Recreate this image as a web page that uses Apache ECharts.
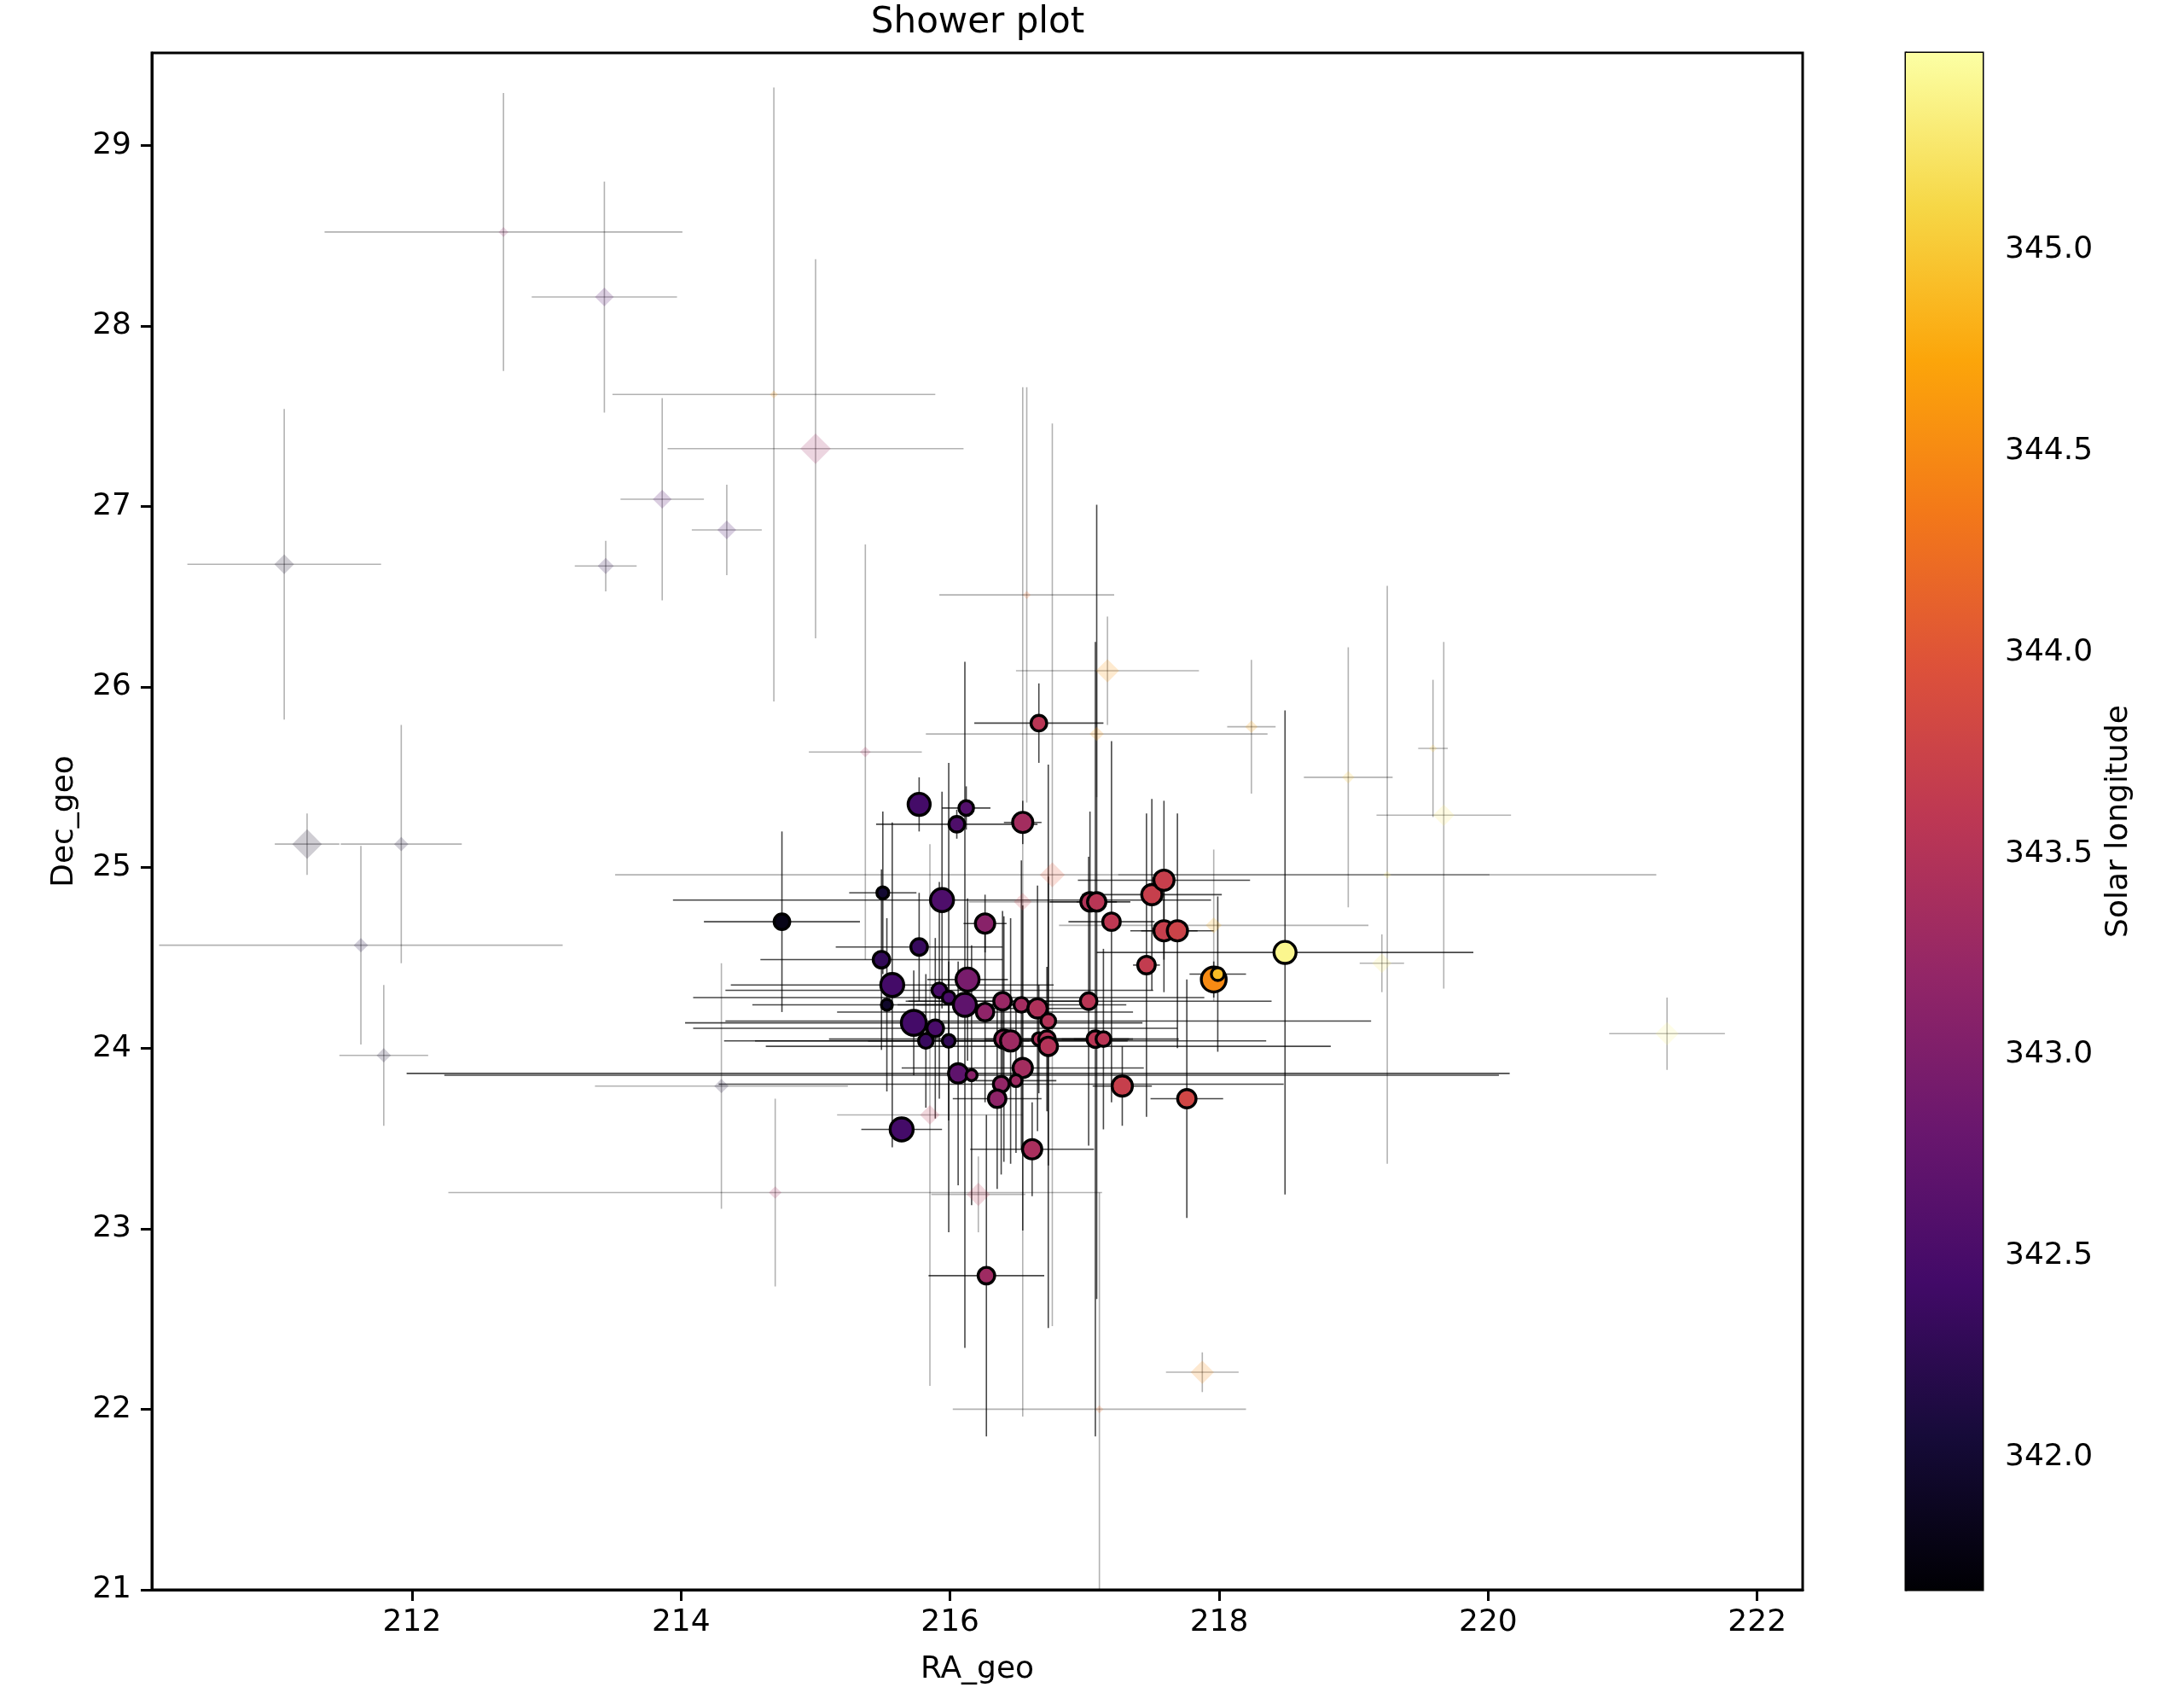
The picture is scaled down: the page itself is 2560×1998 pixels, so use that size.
<!DOCTYPE html>
<html>
<head>
<meta charset="utf-8">
<title>Shower plot</title>
<script src="https://cdn.jsdelivr.net/npm/echarts@6/dist/echarts.min.js"></script>
<style>
  html, body { margin: 0; height: 100%; background: #fff; }
  #main { width: 2560px; height: 1998px; }
</style>
</head>
<body>
<div id="main"></div>
<script>
// shower members (drawn as circles)
var fgRa = [216.66, 215.77, 216.12, 216.05, 216.54, 215.50, 214.75, 215.94, 216.26, 215.77,
            215.49, 215.57, 215.53, 216.13, 215.92, 215.99, 216.11, 216.26, 216.39, 216.53,
            216.65, 216.73, 215.73, 215.89, 215.82, 215.99, 216.40, 216.45, 216.66, 216.72,
            216.73, 217.03, 217.08, 217.14, 216.06, 216.16, 216.54, 216.38, 216.49, 216.35,
            215.64, 216.61, 217.28, 217.76, 216.27, 217.04, 217.09, 217.20, 217.46, 217.50,
            217.59, 217.59, 217.69, 217.96, 217.99, 218.49];
var fgDec = [25.80, 25.35, 25.33, 25.24, 25.25, 24.86, 24.70, 24.82, 24.69, 24.56,
             24.49, 24.35, 24.24, 24.38, 24.32, 24.28, 24.24, 24.20, 24.26, 24.24,
             24.22, 24.15, 24.14, 24.11, 24.04, 24.04, 24.05, 24.04, 24.05, 24.05,
             24.01, 24.26, 24.05, 24.05, 23.86, 23.85, 23.89, 23.80, 23.82, 23.72,
             23.55, 23.44, 23.79, 23.72, 22.74, 24.81, 24.81, 24.70, 24.46, 24.85,
             24.93, 24.65, 24.65, 24.38, 24.41, 24.53];
var fgSol = [343.55, 342.45, 342.6, 342.55, 343.35, 342.0, 341.8, 342.55, 343.1, 342.35,
             342.3, 342.45, 341.95, 342.95, 342.5, 342.5, 342.7, 343.15, 343.25, 343.35,
             343.45, 343.5, 342.45, 342.5, 342.35, 342.3, 343.3, 343.3, 343.45, 343.5,
             343.5, 343.55, 343.55, 343.55, 342.7, 343.1, 343.35, 343.2, 343.3, 343.15,
             342.45, 343.4, 343.7, 343.8, 343.3, 343.5, 343.55, 343.6, 343.65, 343.7,
             343.7, 343.7, 343.75, 344.5, 344.9, 345.4];
var fgWeight = [1.7, 2.4, 1.6, 1.7, 2.2, 1.3, 1.7, 2.5, 2.1, 1.8,
                1.8, 2.5, 1.2, 2.5, 1.6, 1.4, 2.5, 1.9, 1.9, 1.6,
                2.1, 1.6, 2.7, 1.8, 1.6, 1.4, 2.0, 2.2, 1.4, 1.8,
                2.0, 1.8, 1.8, 1.6, 2.1, 1.2, 2.1, 1.7, 1.3, 1.9,
                2.5, 2.1, 2.2, 2.0, 1.8, 2.0, 2.0, 1.9, 1.9, 2.2,
                2.2, 2.2, 2.2, 2.7, 1.4, 2.4];
var fgRaErr = [0.48, 0.05, 0.18, 0.60, 0.14, 0.25, 0.58, 2.0, 0.16, 0.62,
               0.9, 1.2, 1.0, 0.3, 1.59, 1.9, 0.5, 1.1, 0.7, 0.78,
               0.4, 2.4, 1.7, 1.8, 1.5, 0.6, 1.3, 1.9, 0.4, 0.3,
               2.1, 1.36, 0.25, 0.22, 4.1, 3.92, 0.9, 2.1, 0.3, 0.33,
               0.3, 0.46, 0.22, 0.27, 0.43, 0.3, 0.15, 0.32, 0.1, 0.52,
               0.64, 0.25, 0.27, 0.06, 0.21, 1.40];
var fgDecErr = [0.22, 0.15, 0.12, 0.08, 0.12, 0.45, 0.50, 0.6, 0.16, 0.3,
                0.5, 0.9, 0.48, 0.45, 0.6, 1.3, 1.9, 0.5, 0.5, 0.8,
                0.68, 0.8, 0.29, 0.5, 0.37, 0.44, 0.68, 0.68, 0.3, 0.4,
                1.56, 0.8, 2.2, 0.5, 0.62, 0.72, 0.9, 0.5, 0.4, 0.5,
                0.07, 0.26, 0.22, 0.66, 0.89, 0.5, 2.2, 1.0, 0.84, 0.53,
                0.44, 0.34, 0.65, 0.1, 0.43, 1.34];

// other meteors (faint diamonds)
var bgRa = [212.68, 213.43, 214.69, 215.00, 213.86, 214.34, 213.44, 211.05, 215.37, 211.92,
            211.22, 211.62, 211.79, 214.30, 214.70, 215.85, 216.21, 216.54, 216.76, 216.57,
            217.17, 217.09, 218.24, 217.96, 218.96, 219.59, 219.67, 219.25, 219.21, 221.33,
            217.875, 217.11];
var bgDec = [28.52, 28.16, 27.62, 27.32, 27.04, 26.87, 26.67, 26.68, 25.64, 25.13,
             25.13, 24.57, 23.96, 23.79, 23.20, 23.63, 23.19, 24.81, 24.96, 26.51,
             26.09, 25.74, 25.78, 24.68, 25.50, 25.66, 25.29, 24.96, 24.47, 24.08,
             22.205, 22.00];
var bgSol = [343.2, 342.5, 344.6, 343.3, 342.5, 342.4, 342.2, 341.9, 343.4, 342.0,
             341.9, 342.1, 342.0, 342.0, 343.4, 343.6, 343.6, 343.7, 344.0, 344.2,
             344.6, 344.6, 344.7, 344.8, 345.0, 345.0, 345.3, 345.2, 345.3, 345.4,
             344.5, 344.2];
var bgWeight = [1.1, 2.1, 0.9, 3.4, 2.1, 2.1, 1.8, 2.2, 1.2, 1.6,
                3.3, 1.6, 1.6, 1.6, 1.4, 2.2, 2.6, 2.0, 2.8, 0.9,
                2.6, 1.6, 1.4, 1.8, 1.4, 0.9, 2.4, 0.9, 2.2, 2.6,
                2.6, 0.9];
var bgRaErr = [1.33, 0.54, 1.20, 1.10, 0.31, 0.26, 0.23, 0.72, 0.42, 0.45,
               0.24, 1.50, 0.33, 0.94, 2.43, 0.69, 0.35, 0.40, 3.25, 0.65,
               0.68, 1.27, 0.18, 1.15, 0.33, 0.11, 0.50, 2.00, 0.165, 0.43,
               0.27, 1.09];
var bgDecErr = [0.77, 0.64, 1.70, 1.05, 0.56, 0.25, 0.14, 0.86, 1.15, 0.66,
                0.17, 0.55, 0.39, 0.68, 0.52, 1.50, 0.21, 2.85, 2.50, 1.15,
                0.30, 0.35, 0.37, 0.42, 0.72, 0.38, 0.96, 1.60, 0.16, 0.20,
                0.11, 1.20];

var xTicks = [212, 214, 216, 218, 220, 222];
var yTicks = [21, 22, 23, 24, 25, 26, 27, 28, 29];
var cbTicks = [342.0, 342.5, 343.0, 343.5, 344.0, 344.5, 345.0];

var raRange = [210.066, 222.338];
var decRange = [21, 29.512];
var solRange = [341.671, 345.489];

// inferno colormap
var inferno = ['#000004', '#160b39', '#420a68', '#6a176e', '#932667', '#bc3754',
               '#dd513a', '#f37819', '#fca50a', '#f6d746', '#fcffa4'];

var FONT = 'DejaVu Sans';

function rows(ra, dec, a, b) {
    var out = [];
    for (var i = 0; i < ra.length; i++) out.push([ra[i], dec[i], a[i], b[i]]);
    return out;
}

function errorBars(color) {
    return function (params, api) {
        var x = api.value(0), y = api.value(1), ex = api.value(2), ey = api.value(3);
        var a = api.coord([x - ex, y]), b = api.coord([x + ex, y]);
        var c = api.coord([x, y - ey]), d = api.coord([x, y + ey]);
        var st = { stroke: color, lineWidth: 1.6 };
        return {
            type: 'group',
            children: [
                { type: 'line', shape: { x1: a[0], y1: a[1], x2: b[0], y2: b[1] }, style: st },
                { type: 'line', shape: { x1: c[0], y1: c[1], x2: d[0], y2: d[1] }, style: st }
            ]
        };
    };
}

var axisFont = { color: '#000', fontSize: 36, fontFamily: FONT };
var tickStyle = { show: true, length: 13, lineStyle: { color: '#000', width: 3 } };

var myChart = echarts.init(document.getElementById('main'));
var option = {
    backgroundColor: '#fff',
    animation: false,
    graphic: [{
        type: 'text', x: 1146, y: 27,
        style: { text: 'Shower plot', align: 'center', verticalAlign: 'middle',
                 fontSize: 42, fontFamily: FONT, fill: '#000' }
    }],
    grid: [
        { left: 178, top: 62, width: 1935, height: 1801, show: true, borderColor: '#000', borderWidth: 3 },
        { left: 2234, top: 62, width: 90, height: 1801, show: true, borderColor: '#000', borderWidth: 3 }
    ],
    xAxis: [{
        type: 'value', gridIndex: 0, min: raRange[0], max: raRange[1],
        name: 'RA_geo', nameLocation: 'middle', nameGap: 76, nameTextStyle: axisFont,
        axisLine: { show: true, lineStyle: { color: '#000', width: 3 } },
        axisTick: Object.assign({ customValues: xTicks }, tickStyle),
        axisLabel: Object.assign({ customValues: xTicks, margin: 21 }, axisFont),
        splitLine: { show: false }
    }, {
        type: 'value', gridIndex: 1, min: 0, max: 1, show: false
    }],
    yAxis: [{
        type: 'value', gridIndex: 0, min: decRange[0], max: decRange[1],
        name: 'Dec_geo', nameLocation: 'middle', nameGap: 84, nameTextStyle: axisFont,
        axisLine: { show: true, lineStyle: { color: '#000', width: 3 } },
        axisTick: Object.assign({ customValues: yTicks }, tickStyle),
        axisLabel: Object.assign({ customValues: yTicks, margin: 24 }, axisFont),
        splitLine: { show: false }
    }, {
        type: 'value', gridIndex: 1, position: 'right', min: solRange[0], max: solRange[1],
        name: 'Solar longitude', nameLocation: 'middle', nameRotate: 90, nameGap: 142,
        nameTextStyle: axisFont,
        axisLine: { show: true, lineStyle: { color: '#000', width: 3 } },
        axisTick: Object.assign({ customValues: cbTicks }, tickStyle),
        axisLabel: Object.assign({
            customValues: cbTicks, margin: 26,
            formatter: function (v) { return v.toFixed(1); }
        }, axisFont),
        splitLine: { show: false }
    }],
    visualMap: {
        type: 'continuous', show: false, dimension: 2,
        min: solRange[0], max: solRange[1], seriesIndex: [1, 2],
        inRange: { color: inferno }
    },
    series: [{
        // faint error bars
        type: 'custom', xAxisIndex: 0, yAxisIndex: 0, silent: true, clip: true,
        renderItem: errorBars('rgba(0,0,0,0.3)'),
        encode: { x: 0, y: 1 },
        data: rows(bgRa, bgDec, bgRaErr, bgDecErr)
    }, {
        type: 'scatter', xAxisIndex: 0, yAxisIndex: 0, symbol: 'diamond',
        symbolSize: function (v) { return v[3] * 10.5; },
        itemStyle: { opacity: 0.2 },
        data: rows(bgRa, bgDec, bgSol, bgWeight)
    }, {
        type: 'scatter', xAxisIndex: 0, yAxisIndex: 0, symbol: 'circle',
        symbolSize: function (v) { return v[3] * 10.8; },
        itemStyle: { borderColor: '#000', borderWidth: 3.4, opacity: 1 },
        data: rows(fgRa, fgDec, fgSol, fgWeight)
    }, {
        type: 'custom', xAxisIndex: 0, yAxisIndex: 0, silent: true, clip: true,
        renderItem: errorBars('rgba(0,0,0,0.72)'),
        encode: { x: 0, y: 1 },
        data: rows(fgRa, fgDec, fgRaErr, fgDecErr)
    }, {
        // colour bar
        type: 'custom', xAxisIndex: 1, yAxisIndex: 1, silent: true,
        renderItem: function (params, api) {
            var lo = api.coord([0, solRange[0]]), hi = api.coord([1, solRange[1]]);
            var stops = inferno.map(function (c, i) {
                return { offset: i / (inferno.length - 1), color: c };
            });
            return {
                type: 'rect',
                shape: { x: lo[0], y: hi[1], width: hi[0] - lo[0], height: lo[1] - hi[1] },
                style: { fill: new echarts.graphic.LinearGradient(0, 1, 0, 0, stops) }
            };
        },
        data: [[0, solRange[0]]]
    }]
};
myChart.setOption(option);
</script>
</body>
</html>
